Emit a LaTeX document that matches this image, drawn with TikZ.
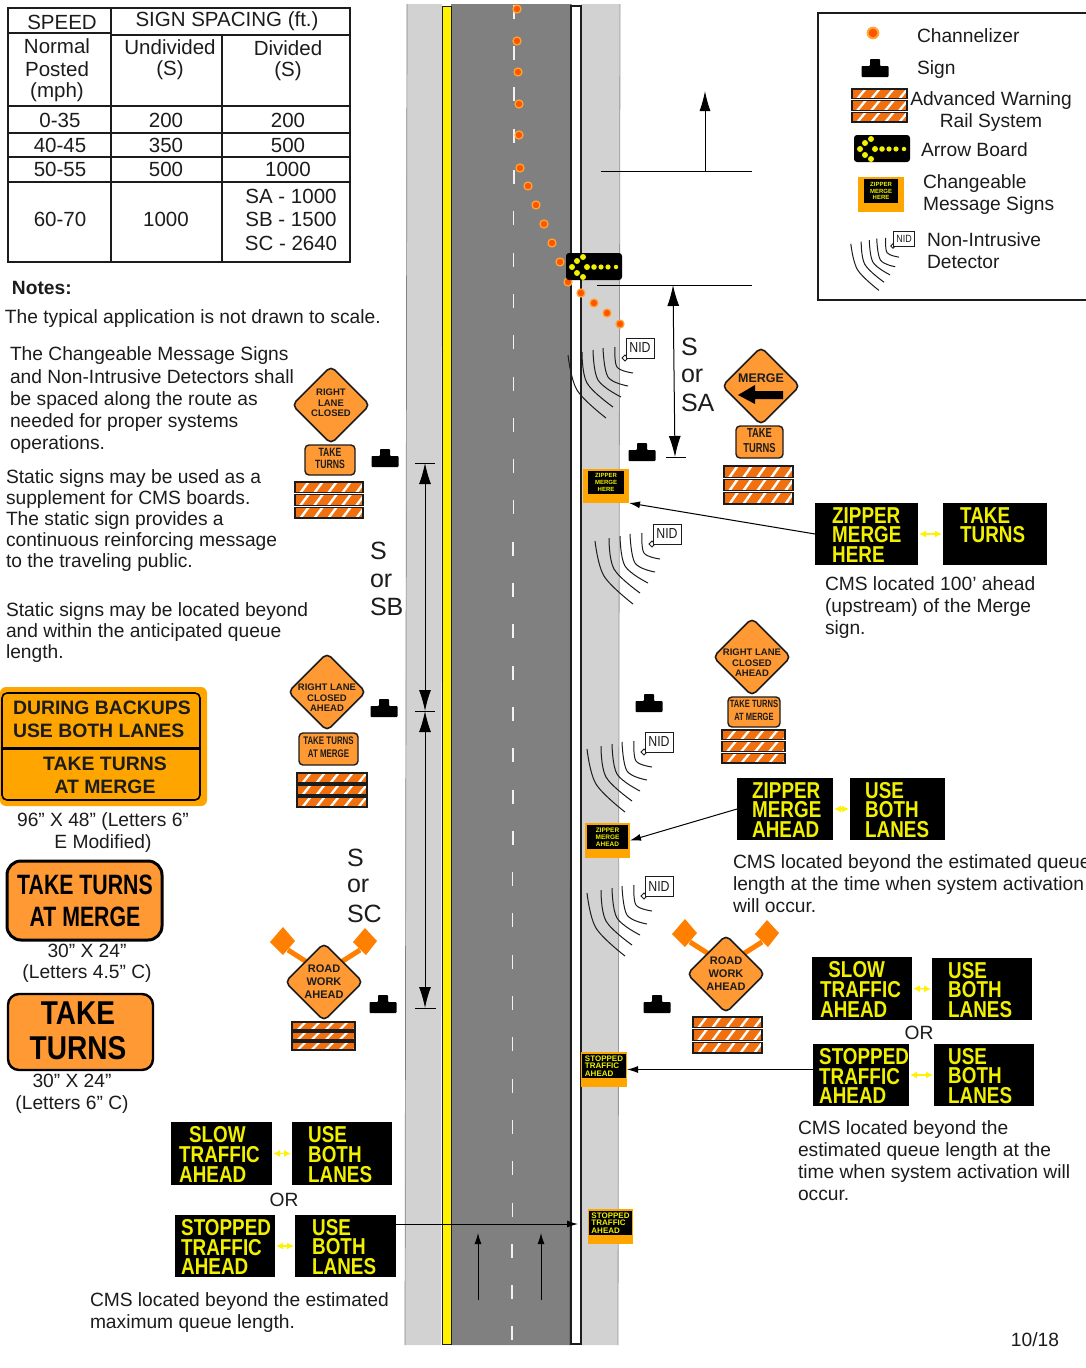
\documentclass[tikz,border=0pt]{standalone}
\usepackage{fontspec}
\usepackage{graphicx}
\setmainfont{Liberation Sans}
\usetikzlibrary{arrows.meta,shapes.geometric}
\definecolor{ink}{HTML}{1C1C1C}
\definecolor{signor}{HTML}{FF9933}
\definecolor{cmsor}{HTML}{FFA500}
\definecolor{flagor}{HTML}{FF8000}
\definecolor{railor}{HTML}{F07010}
\definecolor{asph}{HTML}{808080}
\definecolor{shld}{HTML}{D2D2D2}
\definecolor{msgy}{HTML}{F0F000}
\definecolor{chanout}{HTML}{FFA530}
\definecolor{chanin}{HTML}{FF5500}
\tikzset{
  x=1pt,y=-1pt,
  txt/.style={inner sep=0pt,outer sep=0pt,text=ink,font=\fontsize{19.2}{22}\selectfont,align=left,anchor=north west},
  ctxt/.style={txt,align=center,anchor=north},
  one/.style={inner sep=0pt,outer sep=0pt,text=ink,font=\fontsize{19.2}{22}\selectfont},
  tcell/.style={inner sep=0pt,outer sep=0pt,text=ink,font=\fontsize{20.5}{22}\selectfont},
  big/.style={one,font=\fontsize{25}{28}\selectfont,anchor=west},
  boxn/.style={rectangle,inner sep=0pt,outer sep=0pt},
  tick/.style={draw=black,line width=1pt},
  flow/.style={draw=black,line width=1pt,-{Latex[length=11pt,width=7pt]}},
  dimline/.style={draw=black,line width=1pt,{Latex[length=21pt,width=12pt]}-{Latex[length=21pt,width=12pt]}},
  ybar/.style={draw=yellow,line width=1.4pt,{Latex[length=7pt,width=7pt]}-{Latex[length=7pt,width=7pt]}},
}
\newcommand{\mtext}[4]{\node[txt] (#1) at (#2,{#3-7}) {#4};}
\newcommand{\ctext}[4]{\node[ctxt] (#1) at (#2,{#3-7}) {#4};}
\newcommand{\chan}[3][1]{\fill[chanout] (#2,#3) circle ({4.7*#1}); \fill[chanin] (#2,#3) circle ({3.2*#1});}
\newcommand{\signicon}[2]{\begin{scope}[shift={(#1,#2)}]\fill[black,rounded corners=.8pt] (-13.5,0) -- (13.5,0) -- (13.5,-11) -- (5,-11) -- (5,-18) -- (-5,-18) -- (-5,-11) -- (-13.5,-11) -- cycle;\end{scope}}
\newcommand{\railbar}[4]{%
  \begin{scope}
  \clip (#1,#2) rectangle (#3,#4);
  \fill[railor] (#1,#2) rectangle (#3,#4);
  \foreach \k in {-10,4,...,80}{\fill[white] ({#1+\k},#4) -- ({#1+\k+3},#4) -- ({#1+\k+11},#2) -- ({#1+\k+8},#2) -- cycle;}
  \end{scope}
  \draw[draw=ink,line width=1.2pt] (#1,#2) rectangle (#3,#4);}
\newcommand{\railsys}[4]{%
  \pgfmathsetmacro{\rh}{(#4-#2-4)/3}
  \railbar{#1}{#2}{#3}{#2+\rh}
  \railbar{#1}{#2+\rh+2}{#3}{#2+2*\rh+2}
  \railbar{#1}{#2+2*\rh+4}{#3}{#4}}
\newcommand{\rectnode}[6]{\node[boxn,#6,minimum width={((#4)-(#2))*1pt},minimum height={((#5)-(#3))*1pt}] (#1) at ({((#2)+(#4))/2},{((#3)+(#5))/2}) {};}
\newcommand{\msg}[9]{\rectnode{#1}{#2}{#3}{#4}{#5}{fill=black}
  \node[anchor=west,inner sep=0pt,text=msgy,font=\fontsize{23}{20}\bfseries\selectfont] (#1t) at (#6,{(#3+#5)/2+1}) {\scalebox{.82}[1]{\vbox{\baselineskip=19.6pt\lineskiplimit=-30pt\hbox{#7}\hbox{#8}\hbox{#9}}}};}
\newcommand{\cmstc}[5]{\vbox{\fontsize{#1}{#2}\bfseries\selectfont\baselineskip=#2pt\lineskiplimit=-10pt\lineskip=0pt\halign{\hfil##\hfil\cr #3\cr #4\cr #5\cr}}}
\newcommand{\cmstl}[5]{\vbox{\fontsize{#1}{#2}\bfseries\selectfont\baselineskip=#2pt\lineskiplimit=-10pt\lineskip=0pt\halign{##\hfil\cr #3\cr #4\cr #5\cr}}}
\newcommand{\cmsicon}[7]{\rectnode{#1}{#2}{#3}{#4}{#5}{fill=cmsor}
  \rectnode{#1b}{#2+#6}{#3+2}{#4-#6}{#5-9}{fill=black}
  \node[inner sep=0pt,text=msgy] (#1t) at (#1b) {#7};}
\newcommand{\dsign}[6]{\node[diamond,aspect=1,draw=ink,line width=1.6pt,fill=signor,rounded corners=5pt,inner sep=0pt,minimum width=78pt,minimum height=78pt] (#1) at (#2,#3) {};
  \node[inner sep=0pt,text=ink,align=center,font=\fontsize{#4}{#4}\bfseries\selectfont] (#1t) at (#2,{#3+#6}) {#5};}
\newcommand{\plate}[7]{\node[boxn,draw=ink,line width=1.4pt,fill=signor,rounded corners=4pt,minimum width={(#4-#2)*1pt},minimum height={(#5-#3)*1pt}] (#1) at ({(#2+#4)/2},{(#3+#5)/2}) {};
  \node[inner sep=0pt,text=ink,align=center,font=\fontsize{#6}{#6}\bfseries\selectfont] (#1t) at (#1) {\scalebox{.72}[1]{\begin{tabular}{@{}c@{}}#7\end{tabular}}};}
\newcommand{\flags}[2]{\begin{scope}[shift={(#1,#2)}]
  \draw[flagor,line width=5pt] (-36,-32) -- (-14,-18) (36,-32) -- (14,-18);
  \fill[flagor] (-54,-40) -- (-41,-55) -- (-29,-41) -- (-41,-27) -- cycle;
  \fill[flagor] (29,-40) -- (41,-54) -- (53,-41) -- (42,-27) -- cycle;
  \end{scope}}
\newcommand{\nidgrp}[5]{\begin{scope}[shift={(#2,#3)},scale=#4]
  \draw[ink,line width=1pt] plot[smooth,tension=.6] coordinates {(-57,-3) (-48,32) (-19,60)};
  \draw[ink,line width=1pt] plot[smooth,tension=.6] coordinates {(-43,-6) (-38,25) (-12,49)};
  \draw[ink,line width=1pt] plot[smooth,tension=.6] coordinates {(-32,-8) (-27,22) (-4,39)};
  \draw[ink,line width=1pt] plot[smooth,tension=.6] coordinates {(-22,-10) (-17,19) (3,28)};
  \draw[ink,line width=1pt] plot[smooth,tension=.6] coordinates {(-10,-11) (-8,9) (8,15)};
  \draw[ink,line width=.9pt,fill=white] (-3,0) -- (0,-3) -- (3,0) -- (0,3) -- cycle;
  \node[boxn,draw=ink,line width=1pt,fill=white,minimum width={#4*28pt},minimum height={#4*20pt},font=\fontsize{#5}{#5}\selectfont,text=ink] (#1) at (15,-10) {\scalebox{.85}[1]{NID}};
  \end{scope}}
\newcommand{\aboard}[3]{\begin{scope}[shift={(#2,#3)}]
  \node[boxn,fill=black,rounded corners=3pt,minimum width=56pt,minimum height=27pt] (#1) at (28,13.5) {};
  \foreach \p/\q/\r in {6/14/3,11/8/3,17/4/3,11/20/3,17/24/3,21/14/3,28/14/2.8,35/14/2.6,42/14/2.6,50/14/2.2}{\fill[msgy] (\p,\q) circle (\r);}
  \end{scope}}
\begin{document}
\begin{tikzpicture}
\useasboundingbox (0,0) rectangle (1086,1368);
\fill[white] (0,0) rectangle (1086,1368);
% ---------- table
\draw[ink,line width=1.3pt] (8,8) rectangle (350,262);
\draw[ink,line width=1.3pt] (111,8) -- (111,262) (222,35) -- (222,262) (8,33) -- (111,33) (111,35) -- (350,35);
\draw[ink,line width=1.3pt] (8,106) -- (350,106) (8,133) -- (350,133) (8,157) -- (350,157) (8,182) -- (350,182);
\foreach \nm/\px/\py/\tx in {ta/62/22/SPEED,tb/227/21/SIGN SPACING (ft.),tc/57/46/Normal,td/57/69/Posted,te/57/92/(mph),tf/170/47/Undivided,tg/170/70/(S),th/288/48/Divided,ti/288/71/(S),tj/60/120/0-35,tk/166/120/200,tl/288/120/200,tm/60/145/40-45,tn/166/145/350,to/288/145/500,tp/60/169/50-55,tq/166/169/500,tr/288/169/1000,ts/60/219/60-70,tt/166/219/1000,tu/291/196/SA - 1000,tv/291/219/SB - 1500,tw/291/243/SC - 2640}
  {\node[tcell] (\nm) at (\px,\py) {\tx};}
% ---------- road
\fill[shld] (407,4) -- (442,4) -- (441,1345) -- (405,1345) -- cycle;
\draw[gray,line width=.7pt] (407,4) -- (405,1345);
\fill[asph] (451,4) -- (571,4) -- (570,1345) -- (451,1345) -- cycle;
\draw[asph!80!black,line width=1.2pt] (571,4) -- (570,1345);
\fill[shld] (581,4) -- (620,4) -- (618,1345) -- (581,1345) -- cycle;
\draw[gray!80,line width=.8pt] (620,4) -- (618,1345);
\fill[yellow] (442,6) rectangle (451,1344);
\draw[ink,line width=1pt] (442,6) rectangle (451,1344);
\draw[ink,line width=1.2pt] (571,6) -- (571,1344) -- (581,1344) -- (581,6) -- cycle;
\foreach \k in {0,...,32}{\pgfmathsetmacro{\dy}{4.8+41.3*\k}\pgfmathsetmacro{\dx}{514-\k*0.06}\draw[white!90!asph,line width=1.5pt] (\dx,\dy) -- (\dx,\dy+14);}
% channelizers
\foreach \cx/\cy in {517/9,517/41,518/72,519/104,519/135,520/168,528/186,536/205,544/224,552/243,560/262,568/282,581/293,594/303,607/313,620/324}{\chan{\cx}{\cy}}
\aboard{board}{566}{253}
% ---------- horizontal lines and main arrow
\coordinate (h1a) at (601,171); \coordinate (h1b) at (752,171);
\coordinate (up1) at (705,171); \coordinate (up2) at (705,91);
\draw[tick] (h1a) -- (h1b);
\draw[draw=black,line width=1pt,-{Latex[length=20pt,width=11pt]}] (up1) -- (up2);
\coordinate (h2a) at (597,285); \coordinate (h2b) at (752,285);
\draw[tick] (h2a) -- (h2b);
\coordinate (sa1) at (673,285); \coordinate (sa2) at (675,457);
\draw[dimline] (sa1) -- (sa2);
\draw[tick] (666,457) -- (686,457);
% left dims
\coordinate (sb1) at (425,463); \coordinate (sb2) at (425,711); \coordinate (sb3) at (425,1008);
\draw[dimline] (sb1) -- (sb2); \draw[dimline] (sb2) -- (sb3);
\draw[tick] (415,463) -- (435,463) (415,711) -- (435,711) (415,1008) -- (436,1008);
\node[big] (s1) at (370,551) {S}; \node[big] (s2) at (370,581) {or}; \node[big] (s3) at (370,607) {SB};
\node[big] (s4) at (681,347) {S}; \node[big] (s5) at (681,376) {or}; \node[big] (s6) at (681,403) {SA};
\node[big] (s7) at (347,858) {S}; \node[big] (s8) at (347,886) {or}; \node[big] (s9) at (347,914) {SC};
% NID
\nidgrp{nid1}{625}{358}{1}{14.5}
\nidgrp{nid2}{652}{544}{1}{14.5}
\nidgrp{nid3}{644}{752}{1}{14.5}
\nidgrp{nid4}{644}{896}{1}{14.5}
% sign icons
\signicon{642}{461}\signicon{385}{467}\signicon{384}{717}\signicon{383}{1013}\signicon{649}{712}\signicon{657}{1013}
% diamonds
\dsign{d1}{331}{405}{9.5}{RIGHT\\[1pt]LANE\\[1pt]CLOSED}{-2}
\plate{p1}{305}{445}{355}{475}{12}{TAKE\\TURNS}
\railsys{295}{482}{363}{518}
\dsign{d2}{761}{386}{12.5}{MERGE}{-8}
\fill[black] (738,395) -- (755,385) -- (755,391) -- (783,391) -- (783,399) -- (755,399) -- (755,404) -- cycle;
\plate{p2}{736}{426}{783}{458}{13}{TAKE\\[2pt]TURNS}
\railsys{724}{466}{793}{504}
\dsign{d3}{327}{692}{9.5}{RIGHT LANE\\[1pt]CLOSED\\[1pt]AHEAD}{6}
\plate{p3}{299}{733}{358}{765}{11}{TAKE TURNS\\[2pt]AT MERGE}
\railsys{297}{773}{367}{807}
\dsign{d4}{752}{657}{9.5}{RIGHT LANE\\[1pt]CLOSED\\[1pt]AHEAD}{6}
\plate{p4}{728}{697}{780}{727}{10.5}{TAKE TURNS\\[2pt]AT MERGE}
\railsys{722}{730}{785}{763}
\flags{324}{982}
\dsign{d5}{324}{982}{11}{ROAD\\[2pt]WORK\\[2pt]AHEAD}{0}
\railsys{292}{1022}{355}{1050}
\flags{726}{974}
\dsign{d6}{726}{974}{11}{ROAD\\[2pt]WORK\\[2pt]AHEAD}{0}
\railsys{693}{1017}{762}{1053}
% CMS icons
\cmsicon{c1}{583}{469}{629}{503}{5}{\cmstc{6}{6.6}{ZIPPER}{MERGE}{HERE}}
\cmsicon{c2}{585}{823}{630}{858}{2}{\cmstc{6.5}{7}{ZIPPER}{MERGE}{AHEAD}}
\cmsicon{c3}{581}{1052}{627}{1087}{1}{\cmstl{8}{7.6}{STOPPED}{TRAFFIC}{AHEAD}}
\cmsicon{c4}{588}{1209}{633}{1244}{1}{\cmstl{8}{7.6}{STOPPED}{TRAFFIC}{AHEAD}}
% message boards
\msg{m1}{815}{503}{918}{565}{832}{ZIPPER}{MERGE}{HERE}
\msg{m2}{943}{503}{1047}{565}{960}{TAKE}{TURNS}{}
\msg{m3}{737}{778}{833}{840}{752}{ZIPPER}{MERGE}{AHEAD}
\msg{m4}{850}{778}{945}{840}{865}{USE}{BOTH}{LANES}
\msg{m5}{812}{957}{912}{1020}{820}{\hskip 10pt SLOW}{TRAFFIC}{AHEAD}
\msg{m6}{932}{958}{1032}{1020}{948}{USE}{BOTH}{LANES}
\msg{m7}{813}{1044}{909}{1106}{819}{STOPPED}{TRAFFIC}{AHEAD}
\msg{m8}{934}{1044}{1034}{1106}{948}{USE}{BOTH}{LANES}
\msg{m9}{171}{1122}{272}{1185}{179}{\hskip 12pt SLOW}{TRAFFIC}{AHEAD}
\msg{m10}{292}{1122}{392}{1185}{308}{USE}{BOTH}{LANES}
\msg{m11}{175}{1215}{275}{1277}{181}{STOPPED}{TRAFFIC}{AHEAD}
\msg{m12}{295}{1215}{396}{1277}{312}{USE}{BOTH}{LANES}
\foreach \a/\b in {m1/m2,m3/m4,m5/m6,m7/m8,m9/m10,m11/m12}{\draw[ybar] ([xshift=1pt]\a.east) -- ([xshift=-1pt]\b.west);}
% connectors
\draw[flow] (m1.west) -- (c1.south east);
\draw[flow] (m3.west) -- (c2.east);
\draw[flow] (c3.east -| m7.west) -- (c3.east);
\draw[flow,shorten >=10pt] ([yshift=2.5pt]c4.west -| m12.east) -- ([yshift=2.5pt]c4.west);
\coordinate (ru1a) at (478,1300); \coordinate (ru1b) at (478,1233);
\coordinate (ru2a) at (541,1300); \coordinate (ru2b) at (541,1233);
\draw[flow] (ru1a) -- (ru1b); \draw[flow] (ru2a) -- (ru2b);
% ---------- left texts
\node[txt,font=\fontsize{19.2}{22}\bfseries\selectfont] (notes) at (12,281) {Notes:};
\mtext{n1}{5}{317}{The typical application is not drawn to scale.}
\mtext{n2}{10}{354}{The Changeable Message Signs\\[.2pt]and Non-Intrusive Detectors shall\\[.2pt]be spaced along the route as\\[.2pt]needed for proper systems\\[.2pt]operations.}
\mtext{n3}{6}{477}{Static signs may be used as a\\[-1pt]supplement for CMS boards.\\[-1pt]The static sign provides a\\[-1pt]continuous reinforcing message\\[-1pt]to the traveling public.}
\mtext{n4}{6}{610}{Static signs may be located beyond\\[-1pt]and within the anticipated queue\\[-1pt]length.}
% big signs
\node[boxn,fill=cmsor,rounded corners=6pt,minimum width=207pt,minimum height=119pt] (bs1) at (103.5,746.5) {};
\draw[black,line width=1.6pt,rounded corners=5pt] (2,693) rectangle (200,800);
\draw[black,line width=3pt] (2,748) -- (200,748);
\node[one,font=\fontsize{19.4}{22}\bfseries\selectfont,anchor=west] (bs1a) at (13,708) {DURING BACKUPS};
\node[one,font=\fontsize{19.4}{22}\bfseries\selectfont,anchor=west] (bs1b) at (13,731) {USE BOTH LANES};
\node[one,font=\fontsize{19.4}{22}\bfseries\selectfont] (bs1c) at (105,764) {TAKE TURNS};
\node[one,font=\fontsize{19.4}{22}\bfseries\selectfont] (bs1d) at (105,787) {AT MERGE};
\ctext{cap1}{103}{820}{96" X 48" (Letters 6"\\E Modified)}
\node[boxn,draw=black,line width=3pt,fill=signor,rounded corners=14pt,minimum width=155pt,minimum height=79pt] (bs2) at (84.5,900.5) {};
\node[one,font=\fontsize{28}{32}\bfseries\selectfont,text=black] (bs2a) at (85,885) {\scalebox{.76}[1]{TAKE TURNS}};
\node[one,font=\fontsize{28}{32}\bfseries\selectfont,text=black] (bs2b) at (85,917) {\scalebox{.76}[1]{AT MERGE}};
\ctext{cap2}{87}{951}{30" X 24"\\[-1pt](Letters 4.5" C)}
\node[boxn,draw=black,line width=2.4pt,fill=signor,rounded corners=11pt,minimum width=145pt,minimum height=76pt] (bs3) at (80.5,1032) {};
\node[one,font=\fontsize{33}{36}\bfseries\selectfont,text=black] (bs3a) at (78,1013) {\scalebox{.85}[1]{TAKE}};
\node[one,font=\fontsize{33}{36}\bfseries\selectfont,text=black] (bs3b) at (78,1048) {\scalebox{.85}[1]{TURNS}};
\ctext{cap3}{72}{1081}{30" X 24"\\(Letters 6" C)}
\node[one] (or1) at (284,1200) {OR};
\mtext{cb1}{90}{1300}{CMS located beyond the estimated\\maximum queue length.}
% ---------- right texts
\mtext{cb2}{825}{584}{CMS located 100' ahead\\(upstream) of the Merge\\sign.}
\mtext{cb3}{733}{862}{CMS located beyond the estimated queue\\length at the time when system activation\\will occur.}
\node[one] (or2) at (919,1033) {OR};
\mtext{cb4}{798}{1128}{CMS located beyond the\\[-.3pt]estimated queue length at the\\[-.3pt]time when system activation will\\[-.3pt]occur.}
\node[one] (pg) at (1035,1340) {10/18};
% ---------- legend
\draw[ink,line width=1.6pt] (1086,13) -- (818,13) -- (818,300) -- (1086,300);
\chan[1.35]{873}{33}
\mtext{l1}{917}{36}{Channelizer}
\signicon{875}{77}
\mtext{l2}{917}{68}{Sign}
\railsys{852}{89}{907}{122}
\ctext{l3}{991}{99}{Advanced Warning\\Rail System}
\aboard{lboard}{854}{135}
\mtext{l4}{921}{150}{Arrow Board}
\cmsicon{lc}{858}{177}{904}{212}{6}{\cmstc{6}{6.6}{ZIPPER}{MERGE}{HERE}}
\mtext{l5}{923}{182}{Changeable\\Message Signs}
\nidgrp{lnid}{893}{246}{.74}{10.5}
\mtext{l6}{927}{240}{Non-Intrusive\\Detector}
\end{tikzpicture}
\end{document}
